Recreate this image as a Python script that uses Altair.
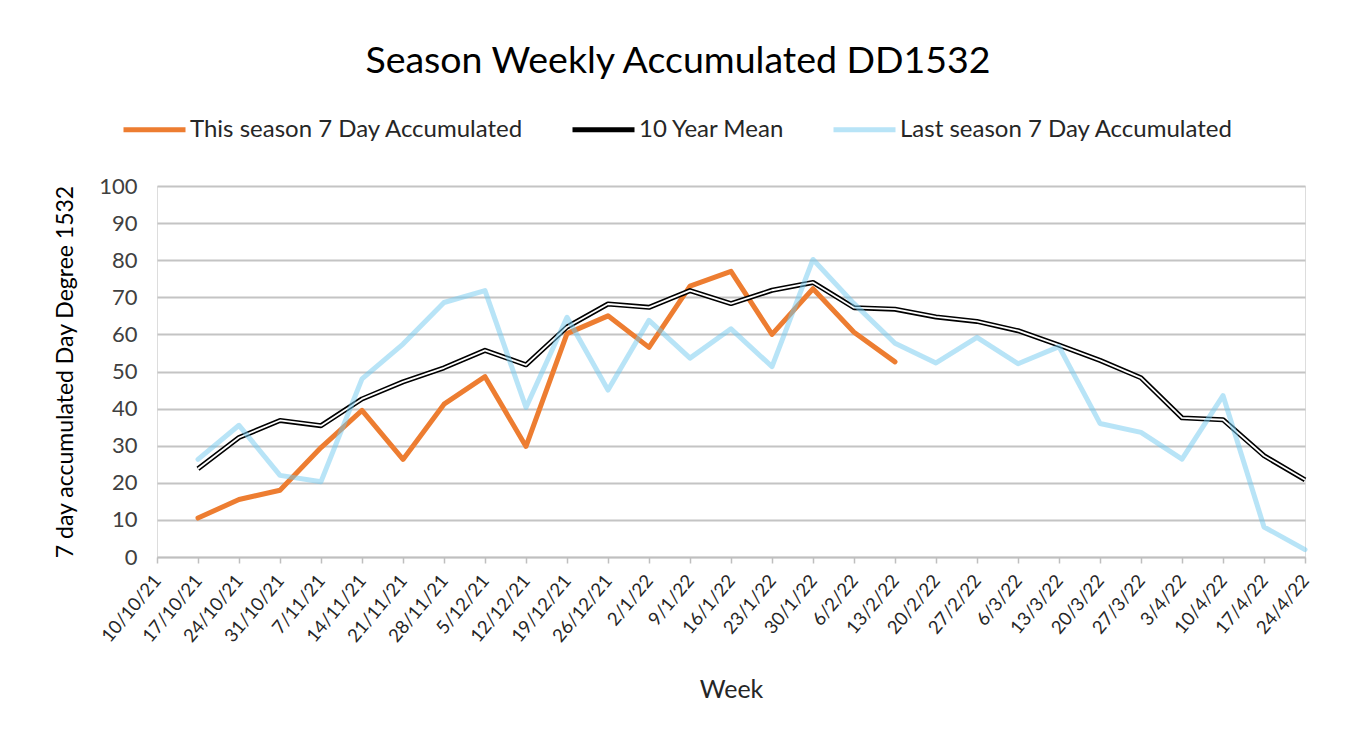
import altair as alt
import pandas as pd

weeks = ["10/10/21", "17/10/21", "24/10/21", "31/10/21", "7/11/21", "14/11/21", "21/11/21",
         "28/11/21", "5/12/21", "12/12/21", "19/12/21", "26/12/21", "2/1/22", "9/1/22",
         "16/1/22", "23/1/22", "30/1/22", "6/2/22", "13/2/22", "20/2/22", "27/2/22",
         "6/3/22", "13/3/22", "20/3/22", "27/3/22", "3/4/22", "10/4/22", "17/4/22", "24/4/22"]

this_season = [None, 10.5, 15.5, 18.0, 29.5, 39.5, 26.3, 41.2, 48.6, 29.8, 60.2, 65.0, 56.5,
               73.0, 77.0, 60.0, 72.3, 60.6, 52.6,
               None, None, None, None, None, None, None, None, None, None]
ten_year_mean = [None, 23.8, 32.2, 36.8, 35.4, 42.6, 47.2, 51.0, 55.7, 51.8, 62.0, 68.2, 67.3,
                 71.8, 68.3, 71.9, 74.0, 67.2, 66.8, 64.7, 63.5, 61.0, 57.1, 53.0, 48.3, 37.5,
                 37.0, 27.3, 20.8]
last_season = [None, 26.3, 35.5, 22.0, 20.3, 48.0, 57.4, 68.6, 71.8, 40.3, 64.6, 45.0, 63.8,
               53.6, 61.5, 51.3, 80.2, 68.3, 57.6, 52.3, 59.2, 52.1, 56.7, 36.0, 33.6, 26.4,
               43.5, 8.1, 2.0]

series_names = ["This season 7 Day Accumulated", "10 Year Mean", "Last season 7 Day Accumulated"]
series_colors = ["#ED7D31", "#000000", "rgba(113,201,239,0.5)"]

rows = []
for name, vals in zip(series_names, [this_season, ten_year_mean, last_season]):
    for w, v in zip(weeks, vals):
        if v is not None:
            rows.append({"week": w, "value": v, "series": name})
df = pd.DataFrame(rows)

FONT = "Lato"

x_enc = alt.X("week:O", sort=weeks,
              scale=alt.Scale(domain=weeks, type="point", padding=0),
              axis=alt.Axis(title="Week", labelAngle=-50, labelAlign="right",
                            labelBaseline="middle", labelPadding=14, labelFontSize=18.5,
                            labelColor="#262626", labelFont=FONT,
                            titleFont=FONT, titleFontSize=25, titleFontWeight="normal",
                            titleColor="#262626", titlePadding=32,
                            tickColor="#bfbfbf", tickSize=6, tickWidth=1.5,
                            domainColor="#bfbfbf", domainWidth=1.5, grid=False,
                            labelOverlap=False))
y_enc = alt.Y("value:Q", scale=alt.Scale(domain=[0, 100]),
              axis=alt.Axis(title="7 day accumulated Day Degree 1532",
                            values=list(range(0, 101, 10)), ticks=False, domain=False,
                            labelFontSize=22, labelColor="#404040", labelFont=FONT,
                            labelPadding=20,
                            titleFont=FONT, titleFontSize=23, titleFontWeight="normal",
                            titleColor="#000000", titlePadding=21,
                            gridColor="#c4c4c4", gridWidth=2))
color_enc = alt.Color("series:N",
                      scale=alt.Scale(domain=series_names, range=series_colors),
                      legend=alt.Legend(title=None, orient="none", direction="horizontal",
                                        legendX=-36, legendY=-90,
                                        symbolType="stroke", symbolSize=3844,
                                        symbolStrokeWidth=5, labelFont=FONT,
                                        labelFontSize=24, labelColor="#262626",
                                        labelLimit=0, labelOffset=2, columnPadding=38))

base = alt.Chart(df).encode(x=x_enc, y=y_enc)

orange = base.transform_filter(alt.datum.series == series_names[0]).mark_line(
    strokeWidth=5, strokeJoin="round", strokeCap="round").encode(color=color_enc)
mean_outer = base.transform_filter(alt.datum.series == series_names[1]).mark_line(
    strokeWidth=5, strokeJoin="round").encode(color=color_enc)
mean_inner = base.transform_filter(alt.datum.series == series_names[1]).mark_line(
    strokeWidth=1.8, strokeJoin="round", color="white")
blue = base.transform_filter(alt.datum.series == series_names[2]).mark_line(
    strokeWidth=5, strokeJoin="round", strokeCap="round").encode(color=color_enc)

chart = alt.layer(orange, mean_outer, mean_inner, blue).properties(
    width=1148, height=371,
    title=alt.TitleParams("Season Weekly Accumulated DD1532", font=FONT, fontSize=37.5,
                          fontWeight="normal", color="#000000", anchor="middle",
                          dx=-53, offset=16),
    autosize=alt.AutoSizeParams(type="none"),
    padding={"left": 149, "top": 178, "right": 35, "bottom": 170},
).configure_view(stroke=None).configure(background="white")

chart.save("out.html", embed_options={"renderer": "svg", "actions": False})
